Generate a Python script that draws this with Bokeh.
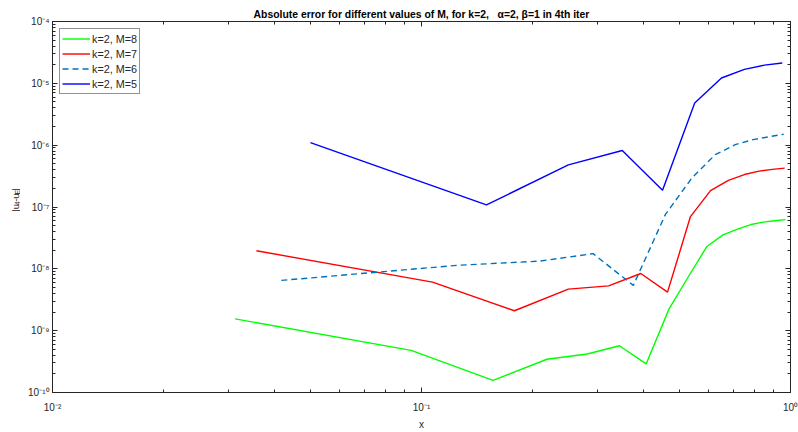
import math
from bokeh.plotting import figure
from bokeh.layouts import row
from bokeh.models import LogAxis, FixedTicker, Legend, LegendItem, Label, Range1d
from bokeh.embed import file_html
from bokeh.resources import INLINE

# ---------------- data ----------------
x_m5 = [0.05, 0.15, 0.25, 0.35, 0.45, 0.55, 0.65, 0.75, 0.85, 0.95]
y_m5 = [1.1e-6, 1.08e-7, 4.8e-7, 8.2e-7, 1.87e-7, 4.8e-6, 1.22e-5, 1.68e-5, 1.97e-5, 2.13e-5]

x_m6 = [0.0417, 0.125, 0.2083, 0.2917, 0.375, 0.4583, 0.5417, 0.625, 0.7083, 0.7917, 0.875, 0.9583]
y_m6 = [6.5e-9, 1.14e-8, 1.33e-8, 1.76e-8, 5.4e-9, 7.6e-8, 3.0e-7, 7.0e-7, 1.02e-6, 1.23e-6, 1.37e-6, 1.5e-6]

x_m7 = [0.0357, 0.1071, 0.1786, 0.25, 0.3214, 0.3929, 0.4643, 0.5357, 0.6071, 0.6786, 0.75, 0.8214, 0.8929, 0.9643]
y_m7 = [1.96e-8, 6.1e-9, 2.1e-9, 4.7e-9, 5.3e-9, 8.4e-9, 4.2e-9, 7.0e-8, 1.84e-7, 2.7e-7, 3.35e-7, 3.8e-7, 4.06e-7, 4.25e-7]

x_m8 = [0.03125, 0.09375, 0.15625, 0.21875, 0.28125, 0.34375, 0.40625, 0.46875,
        0.53125, 0.59375, 0.65625, 0.71875, 0.78125, 0.84375, 0.90625, 0.96875]
y_m8 = [1.55e-9, 4.8e-10, 1.57e-10, 3.45e-10, 4.2e-10, 5.7e-10, 2.9e-10, 2.25e-9,
        7.8e-9, 2.3e-8, 3.55e-8, 4.4e-8, 5.2e-8, 5.7e-8, 6.0e-8, 6.25e-8]

series_labels = ["k=2, M=8", "k=2, M=7", "k=2, M=6", "k=2, M=5"]

x_tick_values = [1e-2, 1e-1, 1e0]
x_tick_labels = ["10\u207b\u00b2", "10\u207b\u00b9", "10\u2070"]
y_tick_values = [1e-10, 1e-9, 1e-8, 1e-7, 1e-6, 1e-5, 1e-4]
y_tick_labels = ["10\u207b\u00b9\u2070", "10\u207b\u2079", "10\u207b\u2078", "10\u207b\u2077",
                 "10\u207b\u2076", "10\u207b\u2075", "10\u207b\u2074"]

title_text = "Absolute error for different values of M, for k=2,\u00a0\u00a0\u00a0\u03b1=2, \u03b2=1 in 4th iter"
x_label = "x"
# y label "|u_4-u_E|" as (text, is_subscript) pieces
y_label_pieces = [("|u", False), ("4", True), ("-u", False), ("E", True), ("|", False)]

# ---------------- layout constants ----------------
FONT = "Liberation Sans"
AX = "#262626"
W, H = 798, 432
STRIP = 20          # width of the strip that carries the y-axis label

# ---------------- main figure ----------------
xr = Range1d(1e-2, 1e0)
yr = Range1d(1e-10, 1e-4)
p = figure(width=W - STRIP, height=H, x_axis_type="log", y_axis_type="log",
           x_range=xr, y_range=yr, output_backend="svg", toolbar_location=None,
           min_border_left=52 - STRIP, min_border_right=8, min_border_top=21, min_border_bottom=37)
p.xgrid.visible = False
p.ygrid.visible = False
p.outline_line_color = AX
p.background_fill_color = "white"
p.border_fill_color = "white"

p.title.text = title_text
p.title.align = "center"
p.title.text_font = FONT
p.title.text_font_style = "bold"
p.title.text_font_size = "10.4px"
p.title.text_color = "black"
p.title.standoff = 3
p.title.offset = 0


def minors(vals):
    out = []
    for v in vals[:-1]:
        for k in range(2, 10):
            out.append(v * k)
    return out


x_ticker = FixedTicker(ticks=x_tick_values, minor_ticks=minors(x_tick_values))
y_ticker = FixedTicker(ticks=y_tick_values, minor_ticks=minors(y_tick_values))


def style(ax, show_labels):
    ax.axis_line_color = AX
    ax.major_tick_line_color = AX
    ax.minor_tick_line_color = AX
    ax.major_tick_in = 5
    ax.major_tick_out = 0
    ax.minor_tick_in = 3
    ax.minor_tick_out = 0
    ax.major_label_text_font = FONT
    ax.major_label_text_color = AX
    ax.major_label_text_font_size = "10px"
    if not show_labels:
        ax.major_label_text_font_size = "0px"
        ax.major_label_standoff = 0


xb = p.xaxis[0]
xb.ticker = x_ticker
xb.major_label_overrides = dict(zip(x_tick_values, x_tick_labels))
style(xb, True)
xb.major_label_standoff = 9
xb.axis_label = x_label
xb.axis_label_text_font = FONT
xb.axis_label_text_font_style = "normal"
xb.axis_label_text_font_size = "10px"
xb.axis_label_text_color = AX
xb.axis_label_standoff = 3

yl = p.yaxis[0]
yl.ticker = y_ticker
yl.major_label_overrides = dict(zip(y_tick_values, y_tick_labels))
style(yl, True)
yl.major_label_standoff = 3

top = LogAxis(ticker=x_ticker)
style(top, False)
top.major_label_overrides = {v: "" for v in x_tick_values}
p.add_layout(top, "above")
right = LogAxis(ticker=y_ticker)
style(right, False)
right.major_label_overrides = {v: "" for v in y_tick_values}
p.add_layout(right, "right")

# ---------------- lines ----------------
LW = 1.4
r8 = p.line(x_m8, y_m8, line_color="#00FF00", line_width=LW)
r7 = p.line(x_m7, y_m7, line_color="#FF0000", line_width=LW)
r6 = p.line(x_m6, y_m6, line_color="#0072BD", line_width=LW, line_dash="6 4")
r5 = p.line(x_m5, y_m5, line_color="#0000FF", line_width=LW)

legend = Legend(items=[LegendItem(label=series_labels[0], renderers=[r8]),
                       LegendItem(label=series_labels[1], renderers=[r7]),
                       LegendItem(label=series_labels[2], renderers=[r6]),
                       LegendItem(label=series_labels[3], renderers=[r5])],
                location="top_left")
legend.margin = 7
legend.padding = 2
legend.spacing = 0
legend.label_height = 15
legend.glyph_height = 15
legend.glyph_width = 28
legend.label_standoff = 2
legend.border_line_color = AX
legend.border_line_width = 1
legend.label_text_font = FONT
legend.label_text_font_size = "10.8px"
legend.label_text_color = AX
legend.background_fill_alpha = 1
p.add_layout(legend)

# ---------------- y-label strip (pixel coordinates, top-down) ----------------
lf = figure(width=STRIP, height=H, x_range=Range1d(0, STRIP), y_range=Range1d(H, 0),
            output_backend="svg", toolbar_location=None, min_border=0,
            x_axis_location=None, y_axis_location=None)
lf.xgrid.visible = False
lf.ygrid.visible = False
lf.outline_line_color = None
lf.background_fill_color = "white"
lf.border_fill_color = "white"

MAIN_FS, SUB_FS, SUB_DX = 9.5, 7.0, 2.5
char_w = {"|": 0.26, "u": 0.556, "4": 0.556, "-": 0.333, "E": 0.667}


def piece_len(t, sub):
    return sum(char_w[c] for c in t) * (SUB_FS if sub else MAIN_FS)


total = sum(piece_len(t, s) for t, s in y_label_pieces)
label_cx = 14.5
label_cy = 208
pos = label_cy + total / 2
for t, sub in y_label_pieces:
    lf.add_layout(Label(x=label_cx + (SUB_DX if sub else 0), y=pos, text=t,
                        angle=math.pi / 2, text_align="left", text_baseline="alphabetic",
                        text_font=FONT, text_font_size=f"{SUB_FS if sub else MAIN_FS}px",
                        text_color=AX))
    pos -= piece_len(t, sub)

layout = row(lf, p, spacing=0)
open("out.html", "w").write(file_html(layout, INLINE))
